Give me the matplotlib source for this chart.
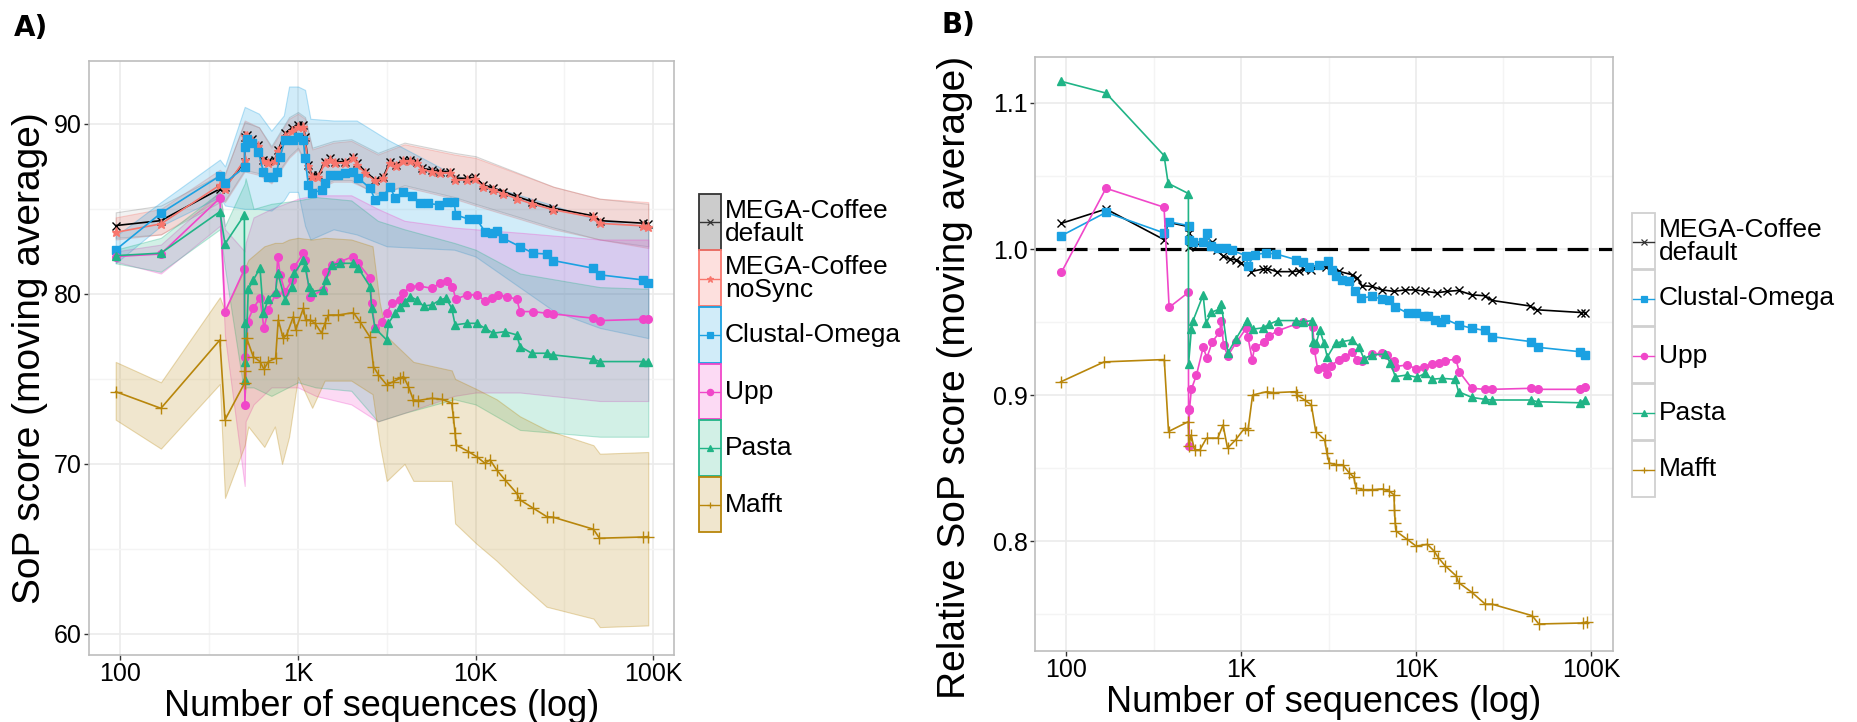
import matplotlib
matplotlib.use("Agg")
import matplotlib.pyplot as plt
from matplotlib.patches import Rectangle
from matplotlib.lines import Line2D
from matplotlib.colors import to_rgba
from matplotlib.ticker import FixedLocator, NullFormatter

plt.rcParams['font.family'] = ['Liberation Sans', 'DejaVu Sans']

# ---------------- panel A : SoP score (moving average) ----------------
megaA_n = [94, 169, 363, 388, 501, 501, 513, 550, 597, 638, 681, 741, 774, 845, 920, 1005,
           1072, 1096, 1143, 1194, 1303, 1419, 1514, 1614, 1841, 2051, 2143, 2400, 2716, 3027,
           3296, 3548, 3926, 4285, 4667, 4977, 5675, 6310, 7178, 7674, 8913, 9931, 11066,
           12589, 14355, 17061, 20749, 27479, 46132, 50234, 88105, 93972]
megaA_sop = [84.02, 84.31, 86.18, 86.3, 87.78, 89.25, 89.35, 89.1, 88.76, 87.88, 87.8, 87.9,
             88.47, 89.45, 89.75, 89.94, 89.94, 89.25, 87.59, 87.0, 87.0, 87.78, 87.98, 87.78,
             87.78, 88.08, 87.69, 87.2, 86.71, 86.9, 87.78, 87.6, 87.88, 87.88, 87.78, 87.39,
             87.29, 87.2, 87.2, 86.8, 86.8, 86.86, 86.41, 86.22, 86.02, 85.73, 85.43, 85.04,
             84.59, 84.31, 84.16, 84.12]
nosyncA_sop = [83.62, 84.12, 86.40, 86.20, 87.90, 89.30, 89.30, 89.00, 88.70, 87.80, 87.70,
               87.80, 88.40, 89.30, 89.60, 89.80, 89.80, 89.10, 87.50, 86.90, 86.90, 87.70,
               87.90, 87.70, 87.70, 88.00, 87.60, 87.10, 86.65, 86.80, 87.70, 87.50, 87.80,
               87.80, 87.70, 87.30, 87.20, 87.10, 87.10, 86.70, 86.70, 86.75, 86.30, 86.10,
               85.90, 85.60, 85.30, 84.95, 84.50, 84.15, 84.00, 83.96]

clustalA_n = [94, 169, 363, 388, 501, 501, 514, 550, 597, 638, 681, 724, 759, 793, 845, 942,
              1005, 1072, 1096, 1143, 1194, 1358, 1419, 1514, 1687, 1841, 2051, 2188, 2547,
              2716, 3027, 3296, 3524, 3926, 4375, 4875, 5370, 6223, 6950, 7568, 7745, 9204,
              10139, 11298, 12331, 13183, 14355, 17824, 21184, 25177, 27479, 46132, 50234,
              88105, 93972]
clustalA_sop = [82.59, 84.75, 86.94, 86.55, 87.45, 88.67, 89.1, 88.9, 88.37, 87.2, 86.9,
                86.86, 87.2, 88.08, 89.06, 89.06, 89.25, 89.06, 87.98, 86.41, 85.92, 86.12,
                86.51, 87.0, 87.0, 87.1, 87.2, 86.8, 86.22, 85.53, 85.76, 86.31, 85.63, 86.02,
                85.73, 85.33, 85.33, 85.24, 85.43, 85.43, 84.65, 84.39, 84.39, 83.67, 83.57,
                83.7, 83.27, 82.78, 82.39, 82.35, 81.96, 81.51, 81.12, 80.82, 80.67]

uppA_n = [94, 169, 363, 388, 499, 501, 502, 520, 560, 611, 643, 681, 748, 769, 793, 845, 929,
          955, 1072, 1096, 1167, 1390, 1432, 1549, 1726, 2051, 2188, 2547, 2600, 2716, 2965,
          3162, 3373, 3758, 3926, 4285, 4775, 5675, 6310, 6950, 7413, 7745, 8913, 10139,
          11298, 12331, 13459, 14962, 17061, 17824, 21184, 25177, 27479, 46132, 50234,
          88105, 93972]
uppA_sop = [82.2, 82.35, 85.63, 78.96, 81.45, 76.3, 73.47, 78.37, 79.16, 79.75, 77.98, 79.06,
            80.0, 82.2, 81.12, 80.14, 80.82, 81.6, 82.39, 82.0, 79.84, 80.24, 81.31, 81.71,
            81.9, 82.2, 81.8, 80.92, 79.45, 77.98, 78.37, 78.86, 79.45, 79.65, 80.04, 80.43,
            80.47, 80.33, 80.63, 80.73, 80.43, 79.69, 79.94, 79.94, 79.61, 79.75, 79.94, 79.84,
            79.69, 78.96, 78.96, 78.86, 78.82, 78.57, 78.43, 78.51, 78.51]

pastaA_n = [94, 169, 363, 388, 499, 500, 501, 502, 525, 560, 611, 638, 681, 748, 769, 845, 920,
            955, 1072, 1096, 1153, 1194, 1390, 1432, 1549, 1726, 2051, 2188, 2547, 2600, 2716,
            3162, 3228, 3524, 3758, 4009, 4285, 4667, 5093, 5675, 6310, 6823, 7345, 7674, 8913,
            10139, 11298, 12589, 14655, 17061, 17824, 20749, 25177, 27479, 46132, 50234,
            88105, 93972]
pastaA_sop = [82.25, 82.4, 84.84, 82.94, 84.65, 78.27, 76.02, 74.94, 80.27, 80.82, 81.51,
              78.86, 79.69, 80.14, 81.25, 79.65, 80.43, 81.22, 82.0, 81.61, 80.43, 80.14, 80.24,
              80.82, 81.71, 81.8, 81.8, 81.51, 80.43, 79.16, 77.98, 77.29, 78.27, 78.86, 79.25,
              79.55, 79.84, 79.65, 79.29, 79.35, 79.65, 79.75, 79.16, 78.18, 78.27, 78.27, 77.98,
              77.69, 77.78, 77.59, 76.9, 76.51, 76.51, 76.41, 76.16, 76.02, 76.02, 76.02]

mafftA_n = [94, 169, 363, 388, 500, 501, 514, 560, 611, 643, 681, 748, 774, 826, 863, 942, 971,
            1072, 1104, 1167, 1247, 1358, 1419, 1483, 1687, 2051, 2234, 2547, 2661, 2838, 3162,
            3443, 3758, 3926, 4188, 4467, 4764, 5662, 6457, 7345, 7499, 7674, 7762, 9099, 10139,
            11298, 12078, 13152, 14655, 17061, 17824, 21184, 25177, 27479, 46132, 49888, 88105,
            93972]
mafftA_sop = [74.25, 73.27, 77.29, 72.59, 74.75, 75.44, 77.39, 76.31, 76.02, 75.57, 76.02,
              76.22, 78.47, 77.39, 77.59, 78.67, 77.88, 79.16, 78.47, 78.47, 78.27, 77.69, 78.27,
              78.76, 78.76, 78.9, 78.37, 77.45, 75.73, 75.24, 74.65, 74.84, 75.04, 75.14, 74.55,
              73.76, 73.73, 73.86, 73.8, 73.57, 72.78, 71.8, 71.12, 70.73, 70.43, 70.04, 70.24,
              69.65, 69.06, 68.27, 67.88, 67.39, 66.9, 66.86, 66.16, 65.63, 65.7, 65.73]

# confidence ribbons
nosync_band_n = [94, 169, 363, 388, 501, 603, 708, 891, 1000, 1096, 1202, 1585, 1995, 2818,
                 3981, 7586, 10000, 27542, 50119, 93972]
nosync_hi = [84.5, 85.0, 87.3, 87.0, 90.2, 89.8, 88.6, 90.3, 90.6, 90.3, 88.5, 88.9, 89.0,
             88.2, 88.8, 88.2, 88.0, 86.3, 85.6, 85.4]
nosync_lo = [83.2, 83.5, 85.6, 85.4, 87.2, 87.0, 86.5, 88.0, 88.5, 87.7, 86.0, 86.6, 86.6,
             85.9, 86.3, 85.6, 85.2, 83.8, 83.2, 82.7]
mega_hi = [84.8, 85.2, 87.0, 87.1, 90.1, 89.8, 88.7, 90.4, 90.7, 90.4, 88.6, 89.0, 89.1, 88.3,
           88.9, 88.3, 88.1, 86.3, 85.6, 85.3]
mega_lo = [83.3, 83.5, 85.4, 85.5, 87.3, 87.1, 86.6, 88.1, 88.6, 87.8, 86.1, 86.7, 86.7, 85.8,
           86.4, 85.7, 85.3, 83.9, 83.2, 82.8]

clustal_band_n = [94, 169, 363, 388, 501, 603, 708, 832, 891, 1000, 1096, 1175, 1585, 2138,
                  3162, 7586, 10000, 27542, 50119, 93972]
clustal_hi = [83.4, 85.4, 87.9, 87.5, 91.0, 90.6, 89.6, 90.5, 92.2, 92.2, 92.0, 90.3, 90.2,
              90.2, 89.1, 87.0, 86.6, 85.2, 84.3, 84.0]
clustal_lo = [81.8, 84.0, 85.7, 85.2, 85.0, 85.0, 84.9, 85.5, 86.0, 86.0, 84.0, 83.2, 83.8,
              83.5, 82.8, 82.6, 82.2, 79.0, 78.0, 77.4]

upp_band_n = [94, 169, 363, 388, 501, 507, 562, 708, 1000, 1259, 1995, 2818, 3981, 7586,
              10000, 17783, 50119, 93972]
upp_hi = [82.5, 82.9, 86.0, 83.8, 82.5, 83.0, 84.5, 85.0, 85.6, 85.8, 85.8, 85.0, 84.3, 83.9,
          83.8, 83.6, 83.2, 83.2]
upp_lo = [81.9, 81.2, 84.0, 77.5, 68.7, 72.5, 73.5, 74.5, 74.5, 74.0, 73.5, 72.5, 73.0, 74.0,
          74.2, 74.2, 73.7, 73.7]
pasta_hi = [82.6, 83.3, 86.0, 84.0, 86.5, 86.8, 85.0, 85.3, 85.5, 85.7, 85.5, 84.3, 83.8,
            83.0, 82.6, 81.2, 80.4, 80.3]
pasta_lo = [81.8, 81.3, 83.8, 81.5, 74.0, 74.5, 74.5, 74.0, 74.8, 74.5, 74.3, 72.5, 73.0,
            73.8, 73.5, 72.0, 71.6, 71.6]

mafft_band_n = [94, 169, 363, 388, 501, 525, 646, 741, 813, 891, 1000, 1202, 1413, 1995, 2630,
                2884, 3162, 3981, 4467, 7345, 7674, 10139, 13152, 17783, 25119, 46132, 50119,
                93972]
mafft_hi = [76.0, 74.8, 79.8, 79.0, 81.5, 82.0, 82.8, 83.0, 83.0, 83.2, 83.3, 83.2, 83.3, 83.2,
            82.8, 79.5, 77.5, 76.5, 76.0, 75.5, 75.0, 74.4, 73.8, 72.8, 72.0, 71.1, 70.6, 70.7]
mafft_lo = [72.6, 70.9, 74.7, 68.0, 71.1, 72.2, 71.0, 72.2, 70.0, 71.6, 75.1, 73.3, 74.9, 74.9,
            74.1, 71.2, 69.0, 70.0, 69.0, 69.0, 66.5, 65.3, 64.3, 63.0, 61.6, 60.9, 60.4, 60.5]

# ---------------- panel B : relative SoP score ----------------
megaB_n = [94, 169, 363, 383, 502, 502, 502, 532, 685, 724, 787, 861, 938, 1000, 1143, 1330,
           1413, 1600, 1950, 2138, 2291, 2512, 3041, 3622, 4315, 4613, 4920, 5610, 6397, 7464,
           8690, 9908, 11298, 13183, 15031, 17498, 20845, 24831, 27102, 44771, 48865, 88308,
           92257]
megaB_rel = [1.0176, 1.0274, 1.0064, 1.0183, 1.0153, 1.011, 1.0016, 1.0025, 1.005, 0.999,
             0.9954, 0.993, 0.9927, 0.9905, 0.9845, 0.9863, 0.9866, 0.9845, 0.9845, 0.985,
             0.986, 0.9856, 0.988, 0.9847, 0.9824, 0.980, 0.9748, 0.9744, 0.972, 0.971, 0.972,
             0.972, 0.971, 0.970, 0.971, 0.9716, 0.9686, 0.968, 0.9648, 0.961, 0.9584, 0.9565,
             0.9565]

clustalB_n = [94, 169, 363, 388, 502, 502, 532, 607, 641, 676, 738, 822, 891, 1069, 1094, 1194,
              1390, 1585, 2061, 2249, 2443, 2786, 3155, 3319, 3467, 3784, 4130, 4508, 4819,
              5610, 6397, 6982, 7551, 8995, 10000, 11066, 11749, 12882, 13932, 14689, 17498,
              20845, 24831, 27102, 45394, 49545, 86298, 92257]
clustalB_rel = [1.0091, 1.0251, 1.011, 1.0187, 1.016, 1.0064, 1.005, 1.0046, 1.011, 1.002,
                1.0005, 1.001, 0.999, 0.9954, 0.9886, 0.9961, 0.9973, 0.9966, 0.9927, 0.9913,
                0.9876, 0.9892, 0.9915, 0.9858, 0.9812, 0.979, 0.9778, 0.971, 0.9664, 0.9675,
                0.9657, 0.965, 0.9606, 0.956, 0.956, 0.9538, 0.9538, 0.9515, 0.9497, 0.952,
                0.948, 0.9458, 0.9442, 0.940, 0.9366, 0.9327, 0.9297, 0.9275]

uppB_n = [94, 169, 363, 388, 500, 501, 502, 507, 520, 556, 607, 638, 685, 753, 771, 794, 841,
          938, 1069, 1094, 1159, 1194, 1361, 1452, 1622, 2061, 2249, 2570, 2624, 2742, 2979,
          3112, 3251, 3622, 3954, 4315, 4613, 4920, 5610, 6397, 6839, 7464, 7621, 8892, 10000,
          11066, 12331, 13459, 14689, 16904, 17660, 20845, 24831, 27102, 45394, 49545, 86298,
          92257]
uppB_rel = [0.984, 1.0416, 1.0286, 0.960, 0.9703, 0.8903, 0.8648, 0.8898, 0.904, 0.9136,
            0.9326, 0.9255, 0.9365, 0.943, 0.951, 0.934, 0.927, 0.936, 0.9456, 0.94, 0.924,
            0.9326, 0.936, 0.9406, 0.944, 0.9486, 0.950, 0.9467, 0.931, 0.9177, 0.9195, 0.9144,
            0.920, 0.924, 0.9263, 0.9297, 0.924, 0.923, 0.928, 0.9286, 0.9275, 0.923, 0.9195,
            0.9206, 0.918, 0.9195, 0.921, 0.9217, 0.9236, 0.9245, 0.916, 0.9046, 0.9039, 0.9039,
            0.9046, 0.9039, 0.9039, 0.9057]

pastaB_n = [94, 169, 363, 383, 500, 501, 520, 532, 607, 631, 676, 753, 771, 841, 938, 1079,
            1167, 1330, 1452, 1622, 2061, 2249, 2541, 2570, 2692, 2818, 2979, 3112, 3467, 3784,
            4315, 4710, 5035, 5610, 6683, 7145, 7621, 8892, 10139, 11298, 12331, 14060, 16749,
            17498, 20845, 24831, 27102, 45394, 49545, 86298, 92257]
pastaB_rel = [1.1148, 1.1068, 1.064, 1.045, 1.038, 0.921, 0.945, 0.951, 0.9685, 0.949, 0.9566,
              0.9589, 0.9623, 0.929, 0.9387, 0.951, 0.9451, 0.946, 0.9486, 0.951, 0.951, 0.950,
              0.951, 0.936, 0.9355, 0.9446, 0.9355, 0.926, 0.9355, 0.9366, 0.9378, 0.9332,
              0.925, 0.9275, 0.928, 0.9217, 0.9126, 0.9137, 0.9121, 0.9149, 0.9108, 0.9114,
              0.9108, 0.9023, 0.8984, 0.897, 0.8966, 0.8966, 0.8954, 0.8947, 0.8966]

mafftB_n = [93, 165, 364, 385, 500, 502, 518, 542, 582, 635, 736, 789, 837, 931, 1047, 1096,
            1164, 1403, 1531, 2056, 2089, 2312, 2523, 2673, 3006, 3097, 3192, 3483, 3802, 4159,
            4406, 4539, 4955, 5572, 6457, 7047, 7482, 7534, 7603, 7691, 8913, 10000, 11614,
            12677, 13428, 14689, 16982, 17498, 20893, 24889, 27164, 46132, 50350, 90573, 94842]
mafftB_rel = [0.909, 0.9227, 0.9243, 0.875, 0.8818, 0.865, 0.8727, 0.8625, 0.8625, 0.8705,
              0.8705, 0.8795, 0.8636, 0.8693, 0.8773, 0.876, 0.900, 0.9023, 0.9016, 0.9023,
              0.900, 0.8966, 0.8932, 0.875, 0.8693, 0.860, 0.8534, 0.8523, 0.8523, 0.8466,
              0.8439, 0.8364, 0.8352, 0.8352, 0.8357, 0.834, 0.8318, 0.8216, 0.8125, 0.8068,
              0.8011, 0.7966, 0.7977, 0.7932, 0.7886, 0.783, 0.7761, 0.7716, 0.7648, 0.7568,
              0.7568, 0.7489, 0.7432, 0.7439, 0.7448]

BLACK = '#000000'
RED = '#F8766D'
BLUE = '#1BA1E2'
PINK = '#F047C9'
GREEN = '#20B486'
GOLD = '#B8860B'

W, H = 1857, 722
fig = plt.figure(figsize=(W / 100, H / 100), dpi=100)


def fx(px):
    return px / W


def fy(py):
    return 1 - py / H


def style(ax, xlim, ylim, yticks, ylabels, yminor, ylabel):
    ax.set_xscale('log')
    ax.set_xlim(*xlim)
    ax.set_ylim(*ylim)
    ax.set_xticks([100, 1000, 10000, 100000])
    ax.set_xticklabels(['100', '1K', '10K', '100K'])
    ax.xaxis.set_minor_locator(FixedLocator([10 ** 2.5, 10 ** 3.5, 10 ** 4.5]))
    ax.xaxis.set_minor_formatter(NullFormatter())
    ax.set_yticks(yticks)
    ax.set_yticklabels(ylabels)
    ax.yaxis.set_minor_locator(FixedLocator(yminor))
    ax.grid(True, which='major', color='#EBEBEB', lw=1.2)
    ax.grid(True, which='minor', color='#F4F4F4', lw=1.0)
    ax.set_axisbelow(True)
    ax.tick_params(which='major', length=3.5, width=1, color='#333333', labelsize=18,
                   labelcolor='black', pad=1.5)
    ax.tick_params(which='minor', length=0)
    for s in ax.spines.values():
        s.set_color('#BDBDBD')
        s.set_linewidth(1.2)
    ax.set_xlabel('Number of sequences (log)', fontsize=26, labelpad=2)
    ax.set_ylabel(ylabel, fontsize=28, labelpad=4)


def ribbon(ax, n, lo, hi, color, alpha=0.2):
    ax.fill_between(n, lo, hi, facecolor=to_rgba(color, alpha),
                    edgecolor=to_rgba(color, alpha + 0.1), lw=0.8, zorder=1)


def series(ax, n, v, color, marker, ms, z):
    ax.plot(n, v, color=color, lw=1.2, marker=marker, ms=ms, mew=1.0, zorder=z)


# ---------- panel A ----------
axA = fig.add_axes([fx(89), fy(655), fx(674) - fx(89), fy(61) - fy(655)])
style(axA, (66.5, 131200), (58.76, 93.7), [60, 70, 80, 90], ['60', '70', '80', '90'],
      [65, 75, 85], 'SoP score (moving average)')

ribbon(axA, nosync_band_n, mega_lo, mega_hi, BLACK, 0.05)
ribbon(axA, nosync_band_n, nosync_lo, nosync_hi, RED)
ribbon(axA, clustal_band_n, clustal_lo, clustal_hi, BLUE)
ribbon(axA, upp_band_n, upp_lo, upp_hi, PINK)
ribbon(axA, upp_band_n, pasta_lo, pasta_hi, GREEN)
ribbon(axA, mafft_band_n, mafft_lo, mafft_hi, GOLD)

series(axA, megaA_n, megaA_sop, BLACK, 'x', 6, 3)
series(axA, megaA_n, nosyncA_sop, RED, '*', 6.5, 4)
series(axA, clustalA_n, clustalA_sop, BLUE, 's', 6, 5)
series(axA, uppA_n, uppA_sop, PINK, 'o', 5.5, 6)
series(axA, pastaA_n, pastaA_sop, GREEN, '^', 6, 7)
series(axA, mafftA_n, mafftA_sop, GOLD, '+', 8, 8)

# ---------- panel B ----------
axB = fig.add_axes([fx(1035), fy(651), fx(1613) - fx(1035), fy(57) - fy(651)])
style(axB, (66.4, 133700), (0.7247, 1.1315), [0.8, 0.9, 1.0, 1.1],
      ['0.8', '0.9', '1.0', '1.1'], [0.75, 0.85, 0.95, 1.05],
      'Relative SoP score (moving average)')
axB.yaxis.set_label_coords(-0.107, 0.461)
axB.axhline(1.0, color='black', lw=2.3, dashes=(6.5, 3.3), zorder=2)

series(axB, megaB_n, megaB_rel, BLACK, 'x', 6, 3)
series(axB, clustalB_n, clustalB_rel, BLUE, 's', 6, 4)
series(axB, uppB_n, uppB_rel, PINK, 'o', 5.5, 5)
series(axB, pastaB_n, pastaB_rel, GREEN, '^', 6, 6)
series(axB, mafftB_n, mafftB_rel, GOLD, '+', 8, 7)


# ---------- legends ----------
def legend(entries, x0, x1, top, step, boxed):
    for i, (label, color, marker, fill) in enumerate(entries):
        yt = top + i * step
        if boxed:
            fc, ec = fill, color
        else:
            fc, ec = 'white', '#D0D0D0'
        fig.add_artist(Rectangle((fx(x0), fy(yt + step - 1)), fx(x1) - fx(x0),
                                 fy(yt) - fy(yt + step - 1), transform=fig.transFigure,
                                 facecolor=fc, edgecolor=ec, lw=1.3))
        yc = fy(yt + step / 2)
        fig.add_artist(Line2D([fx(x0 + 1), fx(x1 - 1)], [yc, yc], transform=fig.transFigure,
                              color=color, lw=1.0))
        fig.add_artist(Line2D([(fx(x0) + fx(x1)) / 2], [yc], transform=fig.transFigure,
                              color=color, marker=marker, ms=4.5, mew=0.9, ls='none'))
        fig.text(fx(x1 + 4), yc, label, ha='left', va='center', fontsize=19, linespacing=0.95)


legend([('MEGA-Coffee\ndefault', '#333333', 'x', '#CCCCCC'),
        ('MEGA-Coffee\nnoSync', RED, '*', to_rgba(RED, 0.22)),
        ('Clustal-Omega', BLUE, 's', to_rgba(BLUE, 0.2)),
        ('Upp', PINK, 'o', to_rgba(PINK, 0.2)),
        ('Pasta', GREEN, '^', to_rgba(GREEN, 0.2)),
        ('Mafft', GOLD, '+', to_rgba(GOLD, 0.2))], 699, 721, 194, 56.5, True)

legend([('MEGA-Coffee\ndefault', '#333333', 'x', None),
        ('Clustal-Omega', BLUE, 's', None),
        ('Upp', PINK, 'o', None),
        ('Pasta', GREEN, '^', None),
        ('Mafft', GOLD, '+', None)], 1632, 1655, 213, 57, False)

fig.text(fx(14), fy(28), 'A)', fontsize=20, fontweight='bold', family='DejaVu Sans',
         ha='left', va='center')
fig.text(fx(941), fy(25), 'B)', fontsize=20, fontweight='bold', family='DejaVu Sans',
         ha='left', va='center')

fig.savefig('out.png', dpi=100)
